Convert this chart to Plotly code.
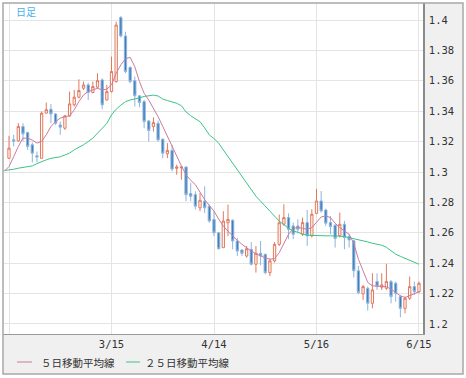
import plotly.graph_objects as go

# ---------------- data ----------------
opens = [1.3090, 1.3212, 1.3205, 1.3299, 1.3260, 1.3179, 1.3107, 1.3090, 1.3387, 1.3413,
         1.3382, 1.3310, 1.3288, 1.3369, 1.3442, 1.3492, 1.3551, 1.3573, 1.3523, 1.3558,
         1.3606, 1.3474, 1.3529, 1.3595, 1.4017, 1.3895, 1.3689, 1.3601, 1.3501, 1.3463,
         1.3336, 1.3299, 1.3320, 1.3216, 1.3120, 1.3142, 1.3024, 1.3028, 1.3033, 1.2858,
         1.2851, 1.2764, 1.2808, 1.2775, 1.2688, 1.2600, 1.2502, 1.2666, 1.2683, 1.2546,
         1.2487, 1.2447, 1.2491, 1.2393, 1.2465, 1.2458, 1.2338, 1.2415, 1.2524, 1.2656,
         1.2700, 1.2645, 1.2645, 1.2590, 1.2667, 1.2580, 1.2728, 1.2809, 1.2750, 1.2667,
         1.2650, 1.2580, 1.2656, 1.2575, 1.2547, 1.2350, 1.2198, 1.2235, 1.2136, 1.2279,
         1.2242, 1.2235, 1.2279, 1.2268, 1.2180, 1.2103, 1.2169, 1.2246, 1.2213]
highs = [1.3238, 1.3245, 1.3321, 1.3321, 1.3265, 1.3194, 1.3135, 1.3398, 1.3457, 1.3448,
         1.3387, 1.3332, 1.3376, 1.3529, 1.3540, 1.3610, 1.3595, 1.3588, 1.3595, 1.3650,
         1.3617, 1.3573, 1.3759, 1.3989, 1.4026, 1.3923, 1.3693, 1.3628, 1.3507, 1.3474,
         1.3342, 1.3360, 1.3338, 1.3222, 1.3190, 1.3179, 1.3048, 1.3035, 1.3037, 1.2928,
         1.2873, 1.2862, 1.2906, 1.2786, 1.2742, 1.2604, 1.2742, 1.2786, 1.2688, 1.2567,
         1.2491, 1.2513, 1.2539, 1.2513, 1.2546, 1.2463, 1.2430, 1.2539, 1.2720, 1.2788,
         1.2728, 1.2667, 1.2689, 1.2700, 1.2750, 1.2755, 1.2890, 1.2875, 1.2759, 1.2711,
         1.2656, 1.2733, 1.2678, 1.2592, 1.2553, 1.2382, 1.2257, 1.2246, 1.2334, 1.2334,
         1.2334, 1.2396, 1.2290, 1.2279, 1.2191, 1.2180, 1.2312, 1.2279, 1.2279]
lows = [1.3090, 1.3168, 1.3200, 1.3201, 1.3146, 1.3063, 1.3063, 1.3090, 1.3387, 1.3321,
        1.3310, 1.3244, 1.3277, 1.3365, 1.3431, 1.3485, 1.3540, 1.3474, 1.3518, 1.3551,
        1.3413, 1.3470, 1.3523, 1.3588, 1.3886, 1.3650, 1.3584, 1.3431, 1.3426, 1.3288,
        1.3200, 1.3266, 1.3200, 1.3091, 1.3091, 1.3004, 1.2982, 1.2949, 1.2808, 1.2808,
        1.2753, 1.2742, 1.2731, 1.2666, 1.2578, 1.2491, 1.2502, 1.2578, 1.2491, 1.2447,
        1.2447, 1.2436, 1.2386, 1.2338, 1.2386, 1.2327, 1.2316, 1.2404, 1.2513, 1.2645,
        1.2558, 1.2558, 1.2597, 1.2579, 1.2514, 1.2569, 1.2722, 1.2733, 1.2645, 1.2590,
        1.2503, 1.2569, 1.2492, 1.2503, 1.2306, 1.2196, 1.2158, 1.2088, 1.2103, 1.2224,
        1.2224, 1.2224, 1.2136, 1.2147, 1.2044, 1.2070, 1.2158, 1.2191, 1.2202]
closes = [1.3157, 1.3203, 1.3299, 1.3251, 1.3168, 1.3124, 1.3098, 1.3387, 1.3410, 1.3382,
          1.3321, 1.3295, 1.3369, 1.3448, 1.3492, 1.3536, 1.3573, 1.3523, 1.3562, 1.3601,
          1.3442, 1.3529, 1.3661, 1.3967, 1.3895, 1.3661, 1.3595, 1.3501, 1.3457, 1.3332,
          1.3273, 1.3325, 1.3211, 1.3124, 1.3142, 1.3019, 1.3033, 1.3033, 1.2851, 1.2840,
          1.2775, 1.2814, 1.2764, 1.2677, 1.2600, 1.2495, 1.2677, 1.2688, 1.2546, 1.2480,
          1.2465, 1.2495, 1.2393, 1.2465, 1.2447, 1.2338, 1.2415, 1.2524, 1.2666, 1.2700,
          1.2623, 1.2590, 1.2623, 1.2667, 1.2580, 1.2722, 1.2809, 1.2744, 1.2663, 1.2641,
          1.2562, 1.2656, 1.2569, 1.2553, 1.2350, 1.2207, 1.2246, 1.2136, 1.2224, 1.2246,
          1.2257, 1.2279, 1.2180, 1.2202, 1.2103, 1.2169, 1.2246, 1.2213, 1.2268]

# moving averages; first value is the day before the window
ma5 = [1.3005,
       1.3036, 1.3100, 1.3168, 1.3223, 1.3222, 1.3210, 1.3190, 1.3201, 1.3245, 1.3299,
       1.3332, 1.3354, 1.3365, 1.3369, 1.3409, 1.3463, 1.3507, 1.3529, 1.3540, 1.3551,
       1.3540, 1.3545, 1.3573, 1.3650, 1.3705, 1.3745, 1.3755, 1.3693, 1.3595, 1.3518,
       1.3473, 1.3420, 1.3364, 1.3300, 1.3233, 1.3165, 1.3102, 1.3040, 1.2982, 1.2945,
       1.2917, 1.2865, 1.2818, 1.2780, 1.2742, 1.2690, 1.2644, 1.2610, 1.2578, 1.2550,
       1.2524, 1.2500, 1.2480, 1.2462, 1.2447, 1.2435, 1.2426, 1.2430, 1.2469, 1.2530,
       1.2590, 1.2628, 1.2634, 1.2630, 1.2623, 1.2634, 1.2667, 1.2704, 1.2711, 1.2700,
       1.2663, 1.2634, 1.2612, 1.2590, 1.2531, 1.2426, 1.2350, 1.2273, 1.2251, 1.2250,
       1.2247, 1.2245, 1.2229, 1.2207, 1.2185, 1.2174, 1.2185, 1.2196, 1.2212]
ma25 = [1.3010,
        1.3013, 1.3018, 1.3025, 1.3030, 1.3035, 1.3040, 1.3055, 1.3070, 1.3080, 1.3090,
        1.3095, 1.3100, 1.3112, 1.3124, 1.3146, 1.3162, 1.3179, 1.3200, 1.3223, 1.3255,
        1.3288, 1.3320, 1.3376, 1.3413, 1.3440, 1.3463, 1.3474, 1.3479, 1.3487, 1.3497,
        1.3502, 1.3506, 1.3500, 1.3480, 1.3470, 1.3460, 1.3452, 1.3436, 1.3395, 1.3370,
        1.3350, 1.3331, 1.3290, 1.3244, 1.3220, 1.3190, 1.3145, 1.3102, 1.3060, 1.3015,
        1.2970, 1.2928, 1.2885, 1.2841, 1.2808, 1.2775, 1.2742, 1.2709, 1.2677, 1.2655,
        1.2628, 1.2614, 1.2601, 1.2592, 1.2584, 1.2582, 1.2580, 1.2580, 1.2580, 1.2580,
        1.2580, 1.2578, 1.2575, 1.2569, 1.2560, 1.2553, 1.2547, 1.2540, 1.2531, 1.2525,
        1.2518, 1.2505, 1.2480, 1.2459, 1.2445, 1.2431, 1.2418, 1.2404, 1.2393]

x_tick_pos = [0, 22, 44, 66, 88]
x_tick_labels = ["", "3/15", "4/14", "5/16", "6/15"]
y_tick_vals = [1.2, 1.22, 1.24, 1.26, 1.28, 1.3, 1.32, 1.34, 1.36, 1.38, 1.4]
y_tick_labels = ["1.2", "1.22", "1.24", "1.26", "1.28", "1.3", "1.32", "1.34", "1.36", "1.38", "1.4"]
series_names = ["５日移動平均線", "２５日移動平均線"]
period_label = "日足"

# ---------------- figure ----------------
n = len(closes)
xs = list(range(n))
xs_ma = list(range(-1, n))

PINK = "#cc7a9e"
GREEN = "#3cc486"
UP = "#e2785c"
DOWN_FILL = "#3d7dbd"
DOWN_LINE = "#8db5dd"

fig = go.Figure()
fig.add_trace(go.Scatter(x=xs_ma, y=ma25, mode="lines", name=series_names[1],
                         line=dict(color=GREEN, width=1), showlegend=False))
fig.add_trace(go.Candlestick(
    x=xs, open=opens, high=highs, low=lows, close=closes,
    increasing=dict(line=dict(color=UP, width=1), fillcolor="#fffaf8"),
    decreasing=dict(line=dict(color=DOWN_LINE, width=1), fillcolor=DOWN_FILL),
    whiskerwidth=0, showlegend=False))
fig.add_trace(go.Scatter(x=xs_ma, y=ma5, mode="lines", name=series_names[0],
                         line=dict(color=PINK, width=1), showlegend=False))

W, H = 466, 378
L, R, T, B = 3, 43, 3, 44
pw, ph = W - L - R, H - T - B


def px(xp):
    return (xp - L) / pw


def py(yp):
    return (H - B - yp) / ph


shapes = [
    # grey label strips
    dict(type="rect", xref="paper", yref="paper", x0=1, x1=px(463), y0=0, y1=1,
         fillcolor="#f0f0f0", line=dict(width=0), layer="below"),
    dict(type="rect", xref="paper", yref="paper", x0=0, x1=px(463), y0=py(374), y1=0,
         fillcolor="#f0f0f0", line=dict(width=0), layer="below"),
    # outer frame
    dict(type="rect", xref="paper", yref="paper", x0=0, x1=px(463), y0=py(374), y1=1,
         line=dict(color="#a8a8a8", width=1.5), layer="above"),
    # legend samples
    dict(type="line", xref="paper", yref="paper", x0=px(17), x1=px(32), y0=py(362), y1=py(362),
         line=dict(color=PINK, width=1)),
    dict(type="line", xref="paper", yref="paper", x0=px(126), x1=px(140), y0=py(362), y1=py(362),
         line=dict(color=GREEN, width=1)),
]

annotations = [
    dict(xref="paper", yref="paper", x=px(39), y=py(362), xanchor="left", yanchor="middle",
         text=series_names[0], showarrow=False,
         font=dict(family="Noto Sans CJK JP", size=10.5, color="#333333")),
    dict(xref="paper", yref="paper", x=px(143), y=py(362), xanchor="left", yanchor="middle",
         text=series_names[1], showarrow=False,
         font=dict(family="Noto Sans CJK JP", size=10.5, color="#333333")),
    dict(xref="paper", yref="paper", x=px(14), y=py(11), xanchor="left", yanchor="middle",
         text=period_label, showarrow=False,
         font=dict(family="Noto Sans CJK JP", size=10, color="#45b3ee")),
]

fig.update_layout(
    width=W, height=H, autosize=False,
    margin=dict(l=L, r=R, t=T, b=B, pad=0),
    paper_bgcolor="white", plot_bgcolor="white",
    showlegend=False,
    shapes=shapes, annotations=annotations,
    xaxis=dict(range=[-1.288, 88.86], tickmode="array", tickvals=x_tick_pos,
               ticktext=x_tick_labels, showgrid=True, gridcolor="#e4e4e4", gridwidth=1,
               zeroline=False, showline=True, linecolor="#9a9a9a", linewidth=1,
               ticks="", rangeslider=dict(visible=False),
               tickfont=dict(family="DejaVu Sans Mono", size=10.5, color="#333333")),
    yaxis=dict(range=[1.1934, 1.4112], side="right", tickmode="array",
               tickvals=y_tick_vals, ticktext=y_tick_labels,
               showgrid=True, gridcolor="#e4e4e4", gridwidth=1, zeroline=False,
               showline=True, linecolor="#8a8a8a", linewidth=1.5, ticks="",
               ticklabelstandoff=2,
               tickfont=dict(family="DejaVu Sans Mono", size=10.5, color="#333333")),
)

fig.write_html("out.html",
               config={"displayModeBar": False},
               post_script="document.body.style.margin='0';document.body.style.padding='0';")
